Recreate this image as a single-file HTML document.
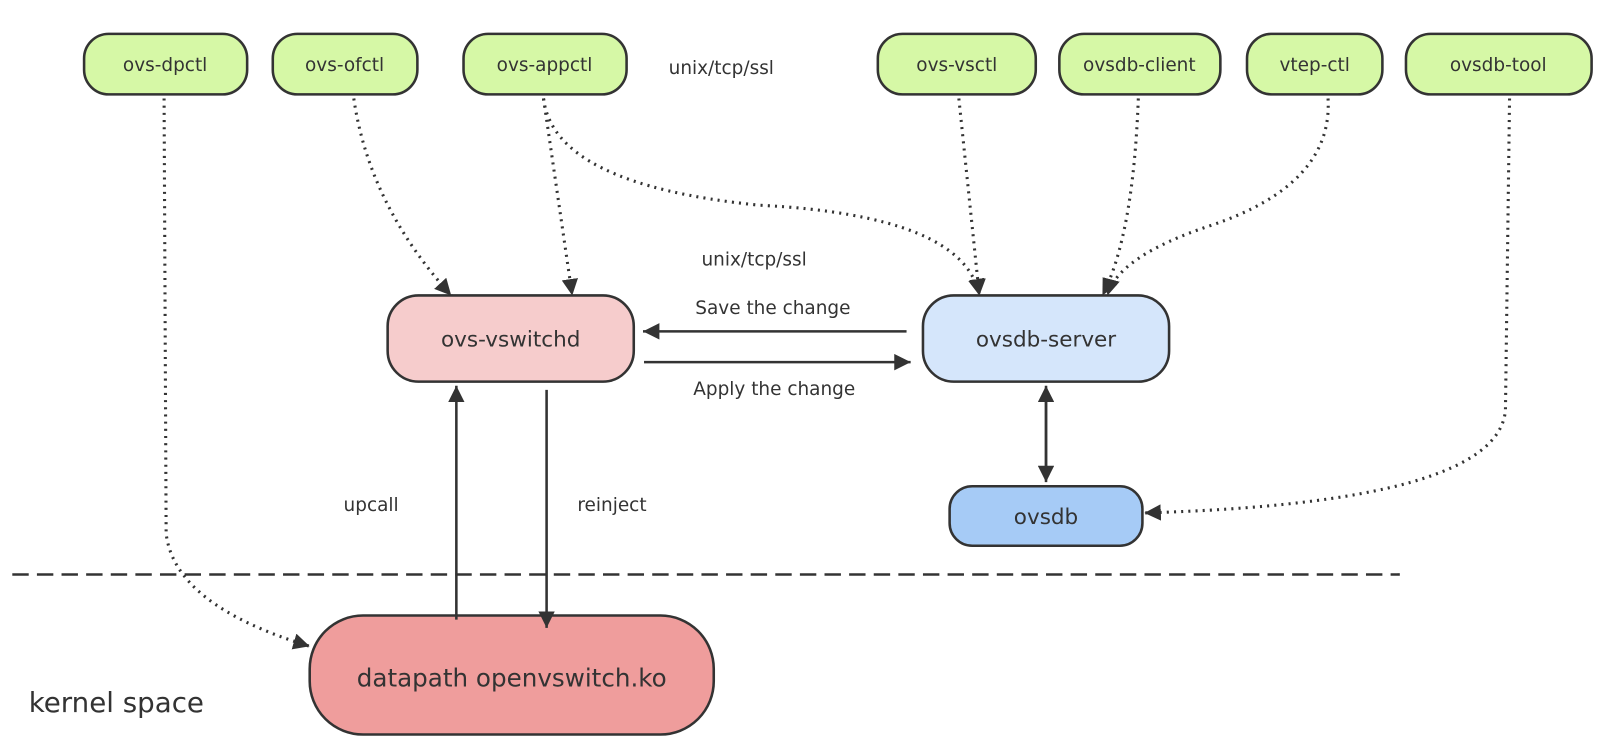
<!DOCTYPE html>
<html><head><meta charset="utf-8"><style>
body{margin:0;background:#fff}
svg{display:block;font-family:"DejaVu Sans","Liberation Sans",sans-serif}
</style></head><body>
<svg width="1608" height="754" viewBox="0 0 1568 735" preserveAspectRatio="none" xmlns="http://www.w3.org/2000/svg">
<defs>
<marker id="a" viewBox="0 0 10 10" refX="10" refY="5" markerWidth="16" markerHeight="16" markerUnits="userSpaceOnUse" orient="auto"><path d="M0,0 L10,5 L0,10 z" fill="#333"/></marker>
</defs>
<g stroke="#333" stroke-width="2.5" fill="#d6f8a6">
<rect x="82" y="33" width="159" height="59" rx="24"/>
<rect x="266" y="33" width="141" height="59" rx="24"/>
<rect x="452" y="33" width="159" height="59" rx="24"/>
<rect x="856" y="33" width="154" height="59" rx="24"/>
<rect x="1033" y="33" width="157" height="59" rx="24"/>
<rect x="1216" y="33" width="132" height="59" rx="24"/>
<rect x="1371" y="33" width="181" height="59" rx="24"/>
<rect x="378" y="288" width="240" height="84" rx="30" fill="#f6cccc"/>
<rect x="900" y="288" width="240" height="84" rx="30" fill="#d5e6fb"/>
<rect x="926" y="474" width="188" height="58" rx="22" fill="#a6cbf6"/>
<rect x="302" y="600" width="394" height="116" rx="52" fill="#ef9d9c"/>
</g>
<g font-size="18" fill="#333" text-anchor="middle">
<text x="161" y="69">ovs-dpctl</text>
<text x="336" y="69">ovs-ofctl</text>
<text x="531" y="69">ovs-appctl</text>
<text x="933" y="69">ovs-vsctl</text>
<text x="1111" y="69">ovsdb-client</text>
<text x="1282" y="69">vtep-ctl</text>
<text x="1461" y="69">ovsdb-tool</text>
<text x="498" y="338" font-size="21">ovs-vswitchd</text>
<text x="1020" y="338" font-size="21">ovsdb-server</text>
<text x="1020" y="511" font-size="21">ovsdb</text>
<text x="499" y="669" font-size="24">datapath openvswitch.ko</text>
</g>
<g font-size="18" fill="#333">
<text x="652" y="72">unix/tcp/ssl</text>
<text x="684" y="259">unix/tcp/ssl</text>
<text x="678" y="306">Save the change</text>
<text x="676" y="385">Apply the change</text>
<text x="335" y="498">upcall</text>
<text x="563" y="498">reinject</text>
<text x="28" y="694" font-size="27">kernel space</text>
</g>
<line x1="12" y1="560" x2="1365" y2="560" stroke="#333" stroke-width="2.5" stroke-dasharray="16,8"/>
<g stroke="#333" stroke-width="2.5" fill="none" marker-end="url(#a)">
<line x1="884" y1="323" x2="627" y2="323"/>
<line x1="628" y1="353" x2="888" y2="353"/>
<line x1="1020" y1="390" x2="1020" y2="470"/>
<line x1="1020" y1="460" x2="1020" y2="376"/>
<line x1="445" y1="604" x2="445" y2="376"/>
<line x1="533" y1="380" x2="533" y2="612"/>
</g>
<g stroke="#333" stroke-width="3" fill="none" stroke-dasharray="2,5" marker-end="url(#a)">
<path d="M160,96 L162,520 Q170,590 302,630"/>
<path d="M345,96 Q360,200 440,288"/>
<path d="M530,96 L558,288"/>
<path d="M530,96 Q540,180 740,200 Q940,210 955,288"/>
<path d="M935,96 L955,288"/>
<path d="M1110,96 Q1105,230 1075,288"/>
<path d="M1295,96 Q1300,180 1180,220 Q1090,250 1080,288"/>
<path d="M1472,96 L1468,400 Q1460,490 1116,500"/>
</g>
</svg>
</body></html>
